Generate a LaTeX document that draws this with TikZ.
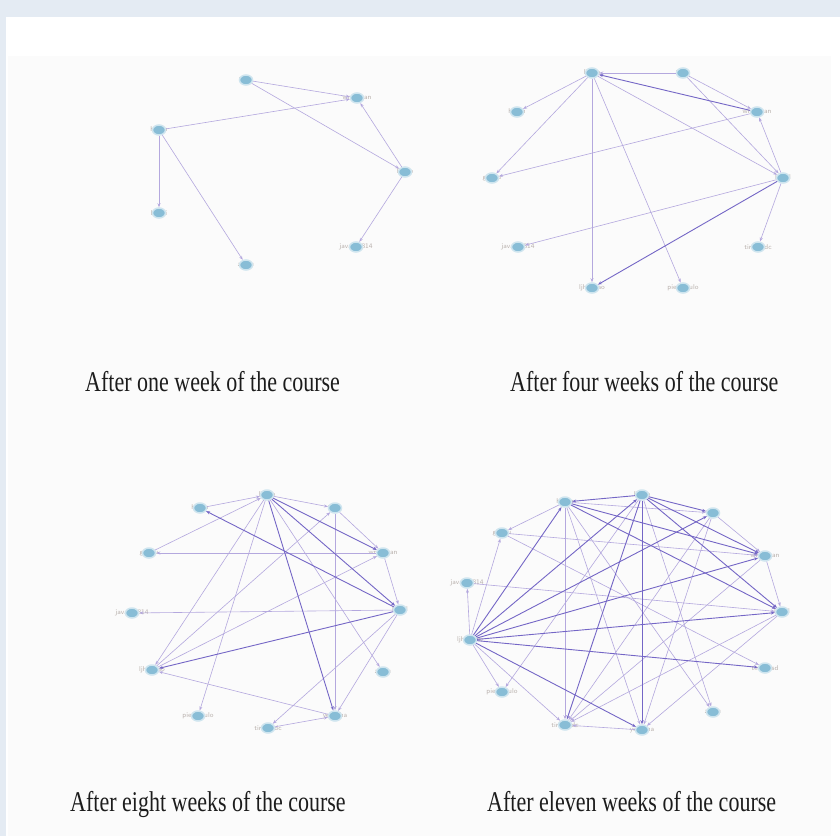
\documentclass[tikz,border=0pt]{standalone}
\usepackage{fontspec}
\setmainfont{Liberation Serif}
\usepackage{graphicx}
\usetikzlibrary{arrows.meta,shapes.geometric}
\definecolor{framebg}{RGB}{228,235,243}
\definecolor{panelbg}{RGB}{251,251,251}
\definecolor{dotblue}{RGB}{136,189,214}
\definecolor{edgelight}{RGB}{180,168,222}
\definecolor{edgedark}{RGB}{116,102,198}
\definecolor{labelgray}{RGB}{185,177,173}
\definecolor{captext}{RGB}{28,28,28}

% one vertex: faint name, blue dot on top
\newcommand{\netnode}[4]{%
  \node[lbl] (#1l) at (#2,#3) {#4};
  \node[dot] (#1) at (#2,#3) {};}

\begin{document}
\begin{tikzpicture}[x=1pt,y=-1pt,
    dot/.style={ellipse, fill=dotblue, draw=dotblue!40, line width=1.5pt, inner sep=0pt, minimum width=13pt, minimum height=10pt},
    lbl/.style={text=labelgray, font=\sffamily\fontsize{7}{8}\selectfont, inner sep=0pt},
    edge/.style={draw=edgelight, line width=0.6pt, -{Stealth[length=4pt,width=3pt]}},
    heavy/.style={edge, draw=edgedark, line width=0.9pt},
    caption/.style={anchor=base west, inner sep=0pt, text=captext, font=\fontsize{22}{24}\selectfont}]
  \useasboundingbox (0,0) rectangle (840,836);
  \fill[framebg] (0,0) rectangle (840,836);
  \fill[white] (6,17) rectangle (840,836);
  \fill[panelbg] (8,56) rectangle (831,836);

  % after one week
  \netnode{a}{246}{80}{hxlin}
  \netnode{b}{357}{98}{wmbayan}
  \netnode{c}{159}{130}{hujun}
  \netnode{d}{405}{172}{lijhao}
  \netnode{e}{159}{213}{hxdai}
  \netnode{f}{356}{247}{javamo814}
  \netnode{g}{246}{265}{zhiyu}
  \foreach \s/\t in {a/b,a/d,c/b,c/e,c/g,d/b,d/f}
    \draw[edge] (\s) -- (\t);

  % after four weeks
  \netnode{p1}{592}{73}{lijhao}
  \netnode{p2}{683}{73}{hxlin}
  \netnode{p3}{517}{112}{hujun}
  \netnode{p4}{757}{112}{wmbayan}
  \netnode{p5}{492}{178}{gianlu}
  \netnode{p6}{783}{178}{hoyel}
  \netnode{p7}{518}{247}{javamo814}
  \netnode{p8}{758}{247}{tirinhadc}
  \netnode{p9}{592}{288}{ljhaocao}
  \netnode{p10}{683}{288}{pietrohulo}
  \foreach \s/\t in {p1/p3,p1/p5,p1/p9,p1/p10,p1/p6,p2/p1,p2/p4,p2/p6,p4/p5,p6/p4,p6/p7,p6/p8}
    \draw[edge] (\s) -- (\t);
  \foreach \s/\t in {p4/p1,p6/p9}
    \draw[heavy] (\s) -- (\t);

  % after eight weeks
  \netnode{q1}{267}{495}{lijhao}
  \netnode{q2}{200}{508}{hujun}
  \netnode{q3}{335}{508}{hxlin}
  \netnode{q4}{149}{553}{gianlu}
  \netnode{q5}{383}{553}{wmbayan}
  \netnode{q6}{132}{613}{javamo814}
  \netnode{q7}{400}{610}{hoyel}
  \netnode{q8}{152}{670}{ljhaocao}
  \netnode{q9}{383}{672}{zhiyu}
  \netnode{q10}{198}{716}{pietrohulo}
  \netnode{q11}{335}{716}{yemisha}
  \netnode{q12}{268}{728}{tirinhadc}
  \foreach \s/\t in {q2/q1,q1/q3,q1/q8,q1/q10,q1/q9,q4/q1,q8/q3,q8/q5,q5/q4,q7/q6,q3/q5,q5/q7,q3/q11,q7/q11,q7/q12,q11/q8,q12/q11}
    \draw[edge] (\s) -- (\t);
  \foreach \s/\t in {q1/q5,q1/q7,q1/q11,q7/q8,q7/q2}
    \draw[heavy] (\s) -- (\t);

  % after eleven weeks
  \netnode{r1}{565}{502}{hujun}
  \netnode{r2}{642}{495}{lijhao}
  \netnode{r3}{713}{513}{hxlin}
  \netnode{r4}{502}{533}{gianlu}
  \netnode{r5}{765}{556}{wmbayan}
  \netnode{r6}{467}{583}{javamo814}
  \netnode{r7}{782}{612}{hoyel}
  \netnode{r8}{470}{640}{ljhaocao}
  \netnode{r9}{765}{668}{tirinhasd}
  \netnode{r10}{502}{692}{pietrohulo}
  \netnode{r11}{713}{712}{zhiyu}
  \netnode{r12}{565}{725}{tirinhadc}
  \netnode{r13}{642}{730}{yemisha}
  \foreach \s/\t in {r8/r4,r8/r6,r8/r10,r8/r12,r1/r3,r1/r4,r1/r12,r1/r13,r1/r11,r2/r10,r2/r11,r4/r5,r4/r9,r6/r7,r3/r5,r3/r12,r5/r7,r5/r12,r7/r12,r7/r13,r13/r12,r3/r13}
    \draw[edge] (\s) -- (\t);
  \foreach \s/\t in {r8/r1,r8/r2,r8/r3,r8/r5,r8/r7,r8/r9,r8/r13,r2/r1,r2/r12,r2/r13,r1/r5,r1/r7,r2/r5,r2/r3,r2/r7}
    \draw[heavy] (\s) -- (\t);

  % captions
  \node[caption] (cap1) at (85,391) {\scalebox{1}[1.3]{After one week of the course}};
  \node[caption] (cap2) at (510,391) {\scalebox{1}[1.3]{After four weeks of the course}};
  \node[caption] (cap3) at (70,811) {\scalebox{1}[1.3]{After eight weeks of the course}};
  \node[caption] (cap4) at (487,811) {\scalebox{1}[1.3]{After eleven weeks of the course}};
\end{tikzpicture}
\end{document}
